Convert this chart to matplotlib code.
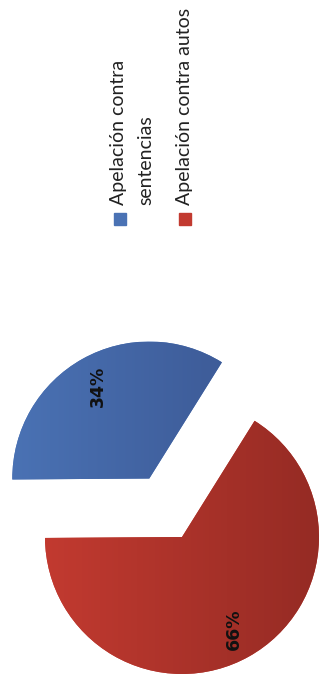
import matplotlib
matplotlib.use('Agg')
import matplotlib.pyplot as plt
from matplotlib.colors import LinearSegmentedColormap
from matplotlib.patches import Rectangle
import numpy as np

# Data
labels = ['Apelación contra\nsentencias', 'Apelación contra autos']
values = [34, 66]
colors_light = ['#4a72b4', '#c23a30']
colors_dark = ['#3a5590', '#952b24']

plt.rcParams['font.family'] = ['Lato', 'DejaVu Sans']

fig = plt.figure(figsize=(3.2, 6.8), dpi=100)
ax = fig.add_axes([0, 0, 1, 1])

# chart is drawn turned 90 degrees (reads bottom to top)
# explode is in data units here (radius 137 px)
wedges, texts, autotexts = ax.pie(
    values, colors=colors_light, startangle=58, counterclock=True,
    explode=[67, 0], center=(182, 143), radius=137, frame=True,
    autopct='%1.0f%%', pctdistance=0.77,
    textprops=dict(fontsize=12.5, fontweight='bold', color='#111111',
                   family='DejaVu Sans'))

for t in autotexts:
    t.set_rotation(90)
    t.set_zorder(4)

# horizontal gradient inside each slice
grad = np.linspace(0, 1, 256).reshape(1, -1)
for w, c1, c2 in zip(wedges, colors_light, colors_dark):
    cx, cy = w.center
    r = w.r
    cmap = LinearSegmentedColormap.from_list('g', [c1, c2])
    im = ax.imshow(grad, cmap=cmap, aspect='auto',
                   extent=(cx - r, cx + r, cy - r, cy + r), zorder=2)
    im.set_clip_path(w)
    w.set_edgecolor('none')

ax.set_xlim(0, 320)
ax.set_ylim(0, 680)
ax.set_aspect('equal')
ax.axis('off')

# legend, turned like the rest
leg_x = [110, 176]
sq_x = [114, 179]
for lab, col, lx, sx in zip(labels, colors_light, leg_x, sq_x):
    ax.add_patch(Rectangle((sx, 455), 12, 12, color=col, zorder=3))
    ax.text(lx, 475, lab, rotation=90, rotation_mode='anchor',
            ha='left', va='top', fontsize=14, color='#222222',
            linespacing=1.75)

fig.savefig('out.png', dpi=100)
